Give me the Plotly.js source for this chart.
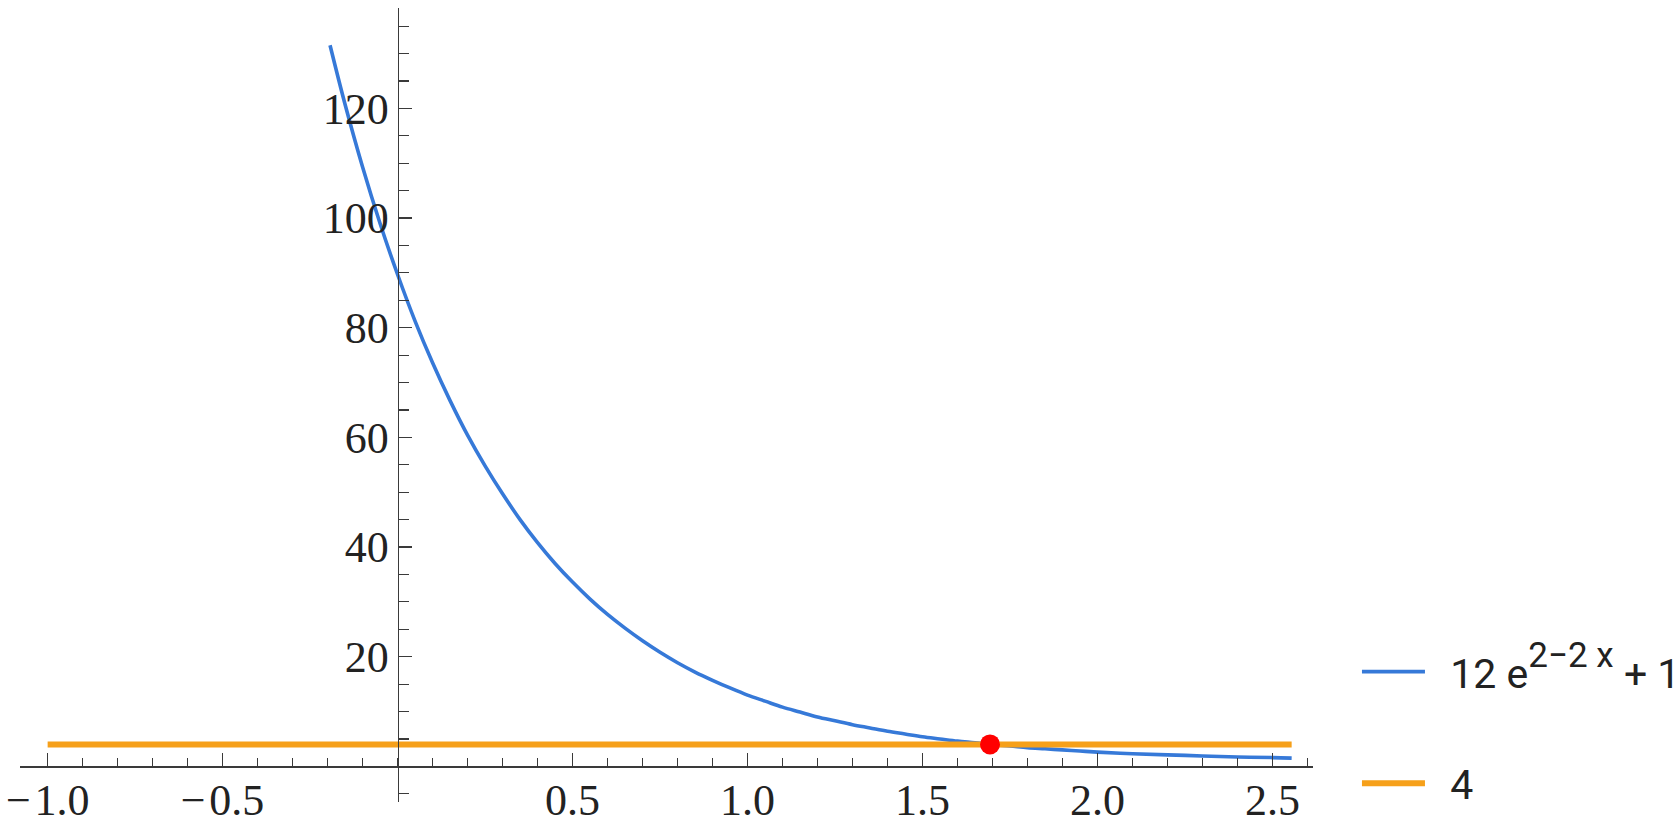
<!DOCTYPE html>
<html>
<head>
<meta charset="utf-8">
<script src="https://cdn.plot.ly/plotly-3.0.1.min.js"></script>
<style>html,body{margin:0;padding:0;background:#fff;}#chart{width:1680px;height:836px;}</style>
</head>
<body>
<div id="chart"></div>
<script>
// Curve 12 e^(2-2x) + 1
const curveX = [-0.193, -0.15, -0.1, -0.05, 0, 0.05, 0.1, 0.15, 0.2, 0.25, 0.3, 0.35, 0.4, 0.45, 0.5, 0.55, 0.6, 0.65, 0.7, 0.75, 0.8, 0.85, 0.9, 0.95, 1.0, 1.05, 1.1, 1.15, 1.2, 1.25, 1.3, 1.35, 1.4, 1.45, 1.5, 1.55, 1.6, 1.65, 1.7, 1.75, 1.8, 1.85, 1.9, 1.95, 2.0, 2.1, 2.2, 2.3, 2.4, 2.5, 2.555];
const curveY = [131.5, 120.7, 109.3, 99.0, 89.7, 81.2, 73.6, 66.7, 60.4, 54.8, 49.7, 45.0, 40.8, 37.0, 33.6, 30.5, 27.7, 25.2, 22.9, 20.8, 18.9, 17.2, 15.7, 14.3, 13.0, 11.9, 10.8, 9.9, 9.0, 8.3, 7.6, 7.0, 6.4, 5.9, 5.4, 5.0, 4.6, 4.3, 3.96, 3.7, 3.4, 3.2, 3.0, 2.8, 2.6, 2.3, 2.1, 1.9, 1.7, 1.6, 1.5];
// Constant line 4
const constX = [-1.0, 2.555];
const constY = [4, 4];
// Intersection point
const pointX = [1.693];
const pointY = [4];
// Tick labels
const xTickVals = [-1.0, -0.5, 0.5, 1.0, 1.5, 2.0, 2.5];
const xTickText = ['−\u200a1.0', '−\u200a0.5', '0.5', '1.0', '1.5', '2.0', '2.5'];
const yTickVals = [20, 40, 60, 80, 100, 120];
const yTickText = ['20', '40', '60', '80', '100', '120'];
const seriesNames = ['\u00a0\u00a012 e<span style="font-size:50px"><sup>2−2 x</sup></span> + 1', '\u00a0\u00a04'];

const xRange = [-1.079, 2.616];
const yRange = [-6.5, 138.3];

const traces = [
  {x: curveX, y: curveY, type: 'scatter', mode: 'lines', name: seriesNames[0],
   line: {color: '#3679d8', width: 3.6, shape: 'spline'}, legend: 'legend'},
  {x: constX, y: constY, type: 'scatter', mode: 'lines', name: seriesNames[1],
   line: {color: '#f6a01a', width: 6}, legend: 'legend2'},
  {x: pointX, y: pointY, type: 'scatter', mode: 'markers', showlegend: false,
   marker: {color: '#ff0000', size: 20}}
];

const tickFont = {family: 'Liberation Serif, serif', size: 44, color: '#222'};
const legFont = {family: 'Roboto, sans-serif', size: 41, color: '#222'};

const layout = {
  width: 1680, height: 836,
  margin: {l: 20, r: 367, t: 8, b: 34.3, autoexpand: false},
  paper_bgcolor: '#fff', plot_bgcolor: '#fff',
  xaxis: {
    range: xRange, anchor: 'free', position: (0 - yRange[0]) / (yRange[1] - yRange[0]),
    showline: true, linecolor: '#3a3a3a', linewidth: 1.5,
    showgrid: false, zeroline: false,
    ticks: 'inside', ticklen: 13, tickwidth: 1.3, tickcolor: '#3a3a3a',
    tickmode: 'array', tickvals: xTickVals, ticktext: xTickText,
    tickfont: tickFont, ticklabelstandoff: -6,
    minor: {tickmode: 'linear', tick0: 0, dtick: 0.1, ticks: 'inside', ticklen: 8, tickwidth: 1.2, tickcolor: '#3a3a3a', showgrid: false}
  },
  yaxis: {
    range: yRange, anchor: 'free', position: (0 - xRange[0]) / (xRange[1] - xRange[0]),
    showline: true, linecolor: '#3a3a3a', linewidth: 1.5,
    showgrid: false, zeroline: false,
    ticks: 'inside', ticklen: 13, tickwidth: 1.3, tickcolor: '#3a3a3a',
    tickmode: 'array', tickvals: yTickVals, ticktext: yTickText,
    tickfont: tickFont,
    minor: {tickmode: 'linear', tick0: 0, dtick: 5, ticks: 'inside', ticklen: 10, tickwidth: 1.2, tickcolor: '#3a3a3a', showgrid: false}
  },
  legend: {x: 1.034, xanchor: 'left', y: 0.1638, yanchor: 'middle', font: legFont,
           bgcolor: 'rgba(0,0,0,0)', itemwidth: 63, borderwidth: 0},
  legend2: {x: 1.034, xanchor: 'left', y: 0.0232, yanchor: 'middle', font: legFont,
            bgcolor: 'rgba(0,0,0,0)', itemwidth: 63, borderwidth: 0},
  showlegend: true
};

Plotly.newPlot('chart', traces, layout, {displayModeBar: false, staticPlot: true});
</script>
</body>
</html>
